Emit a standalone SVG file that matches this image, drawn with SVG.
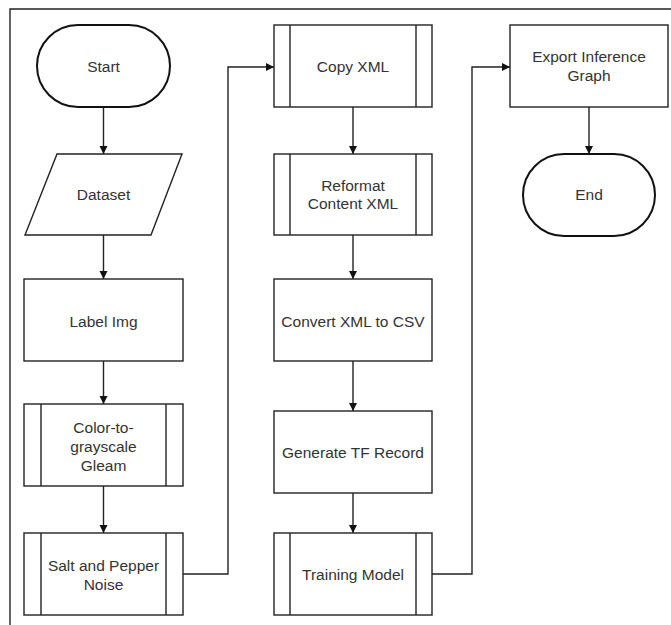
<svg xmlns="http://www.w3.org/2000/svg" width="671" height="625" viewBox="0 0 671 625">
<style>
.box{fill:#fff;stroke:#222;stroke-width:1.4}
.term{fill:#fff;stroke:#111;stroke-width:2}
.inner{stroke:#222;stroke-width:1.4;fill:none}
.conn{fill:none;stroke:#222;stroke-width:1.4}
text{font-family:"Liberation Sans",Arial,sans-serif;font-size:15.5px;fill:#333;text-anchor:middle}
</style>
<defs>
<marker id="arr" markerWidth="10" markerHeight="10" refX="9" refY="5" orient="auto" markerUnits="userSpaceOnUse">
<path d="M1,1 L9,5 L1,9 Z" fill="#111"/>
</marker>
</defs>
<rect width="671" height="625" fill="#fff"/>
<path d="M10,625 V9 H671" fill="none" stroke="#222" stroke-width="1.4"/>
<g id="connectors">
<path class="conn" d="M103.5,107 V154" marker-end="url(#arr)"/>
<path class="conn" d="M103.5,235 V279" marker-end="url(#arr)"/>
<path class="conn" d="M103.5,361 V404" marker-end="url(#arr)"/>
<path class="conn" d="M103.5,486 V533" marker-end="url(#arr)"/>
<path class="conn" d="M183,574 H228 V67 H274" marker-end="url(#arr)"/>
<path class="conn" d="M353,107 V154" marker-end="url(#arr)"/>
<path class="conn" d="M353,235 V279" marker-end="url(#arr)"/>
<path class="conn" d="M353,361 V411" marker-end="url(#arr)"/>
<path class="conn" d="M353,493 V533" marker-end="url(#arr)"/>
<path class="conn" d="M432,574 H472 V67 H510" marker-end="url(#arr)"/>
<path class="conn" d="M589,107 V154" marker-end="url(#arr)"/>
</g>
<g id="start">
<rect class="term" x="37" y="25" width="133" height="82" rx="41" ry="41"/>
<text x="103.5" y="72">Start</text>
</g>
<g id="dataset">
<polygon class="box" points="57,154 182,154 151,235 25,235"/>
<text x="103.5" y="200">Dataset</text>
</g>
<g id="labelimg">
<rect class="box" x="24" y="279" width="159" height="82"/>
<text x="103.5" y="327">Label Img</text>
</g>
<g id="grayscale">
<rect class="box" x="24" y="404" width="159" height="82"/>
<path class="inner" d="M41,404 V486 M166,404 V486"/>
<text x="103.5" y="433">Color-to-</text>
<text x="103.5" y="452">grayscale</text>
<text x="103.5" y="471">Gleam</text>
</g>
<g id="saltpepper">
<rect class="box" x="24" y="533" width="159" height="82"/>
<path class="inner" d="M41,533 V615 M166,533 V615"/>
<text x="103.5" y="571">Salt and Pepper</text>
<text x="103.5" y="590">Noise</text>
</g>
<g id="copyxml">
<rect class="box" x="274" y="25" width="158" height="82"/>
<path class="inner" d="M290,25 V107 M416,25 V107"/>
<text x="353" y="72">Copy XML</text>
</g>
<g id="reformat">
<rect class="box" x="274" y="154" width="158" height="81"/>
<path class="inner" d="M290,154 V235 M416,154 V235"/>
<text x="353" y="191">Reformat</text>
<text x="353" y="209">Content XML</text>
</g>
<g id="convert">
<rect class="box" x="274" y="279" width="158" height="82"/>
<text x="353" y="327">Convert XML to CSV</text>
</g>
<g id="generate">
<rect class="box" x="274" y="411" width="158" height="82"/>
<text x="353" y="458">Generate TF Record</text>
</g>
<g id="training">
<rect class="box" x="274" y="533" width="158" height="82"/>
<path class="inner" d="M290,533 V615 M416,533 V615"/>
<text x="353" y="580">Training Model</text>
</g>
<g id="export">
<rect class="box" x="510" y="25" width="158" height="82"/>
<text x="589" y="62">Export Inference</text>
<text x="589" y="81">Graph</text>
</g>
<g id="end">
<rect class="term" x="523" y="154" width="132" height="82" rx="41" ry="41"/>
<text x="589" y="200">End</text>
</g>
</svg>
